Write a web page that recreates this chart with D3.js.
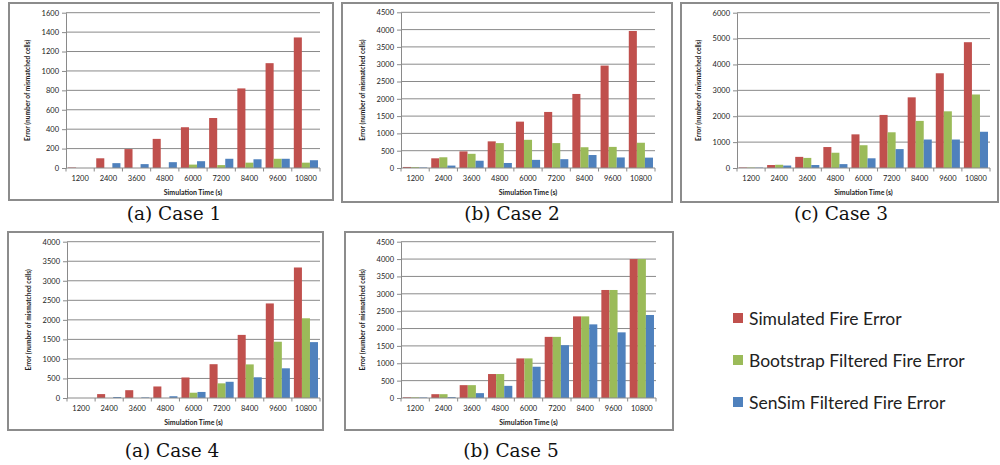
<!DOCTYPE html>
<html>
<head>
<meta charset="utf-8">
<script src="https://cdn.jsdelivr.net/npm/d3@7"></script>
<style>
  html, body { margin: 0; padding: 0; background: #fff; }
  svg { display: block; }
  .tick text { font-family: Lato, "Liberation Sans", sans-serif; }
</style>
</head>
<body>
<svg id="chart" width="1000" height="465"></svg>
<script>
// Simulation time steps (s)
const categories = ["1200", "2400", "3600", "4800", "6000", "7200", "8400", "9600", "10800"];
const seriesNames = ["Simulated Fire Error", "Bootstrap Filtered Fire Error", "SenSim Filtered Fire Error"];

// Case 1
const case1Simulated = [5, 100, 195, 300, 420, 515, 820, 1080, 1345];
const case1Bootstrap = [0, 0, 0, 0, 35, 30, 55, 95, 55];
const case1SenSim = [0, 50, 40, 60, 70, 95, 90, 95, 80];
// Case 2
const case2Simulated = [30, 280, 480, 770, 1340, 1620, 2140, 2960, 3960];
const case2Bootstrap = [25, 310, 410, 720, 815, 720, 600, 610, 730];
const case2SenSim = [15, 70, 210, 145, 235, 255, 375, 305, 300];
// Case 3
const case3Simulated = [20, 115, 430, 810, 1300, 2050, 2730, 3660, 4860];
const case3Bootstrap = [20, 125, 390, 590, 880, 1380, 1820, 2190, 2840];
const case3SenSim = [15, 95, 115, 150, 375, 730, 1100, 1100, 1400];
// Case 4
const case4Simulated = [0, 100, 200, 295, 525, 865, 1615, 2420, 3340];
const case4Bootstrap = [0, 0, 0, 0, 135, 375, 860, 1440, 2040];
const case4SenSim = [0, 25, 15, 45, 155, 415, 530, 760, 1430];
// Case 5
const case5Simulated = [20, 110, 370, 690, 1140, 1760, 2350, 3110, 4000];
const case5Bootstrap = [20, 110, 370, 690, 1140, 1760, 2350, 3110, 4000];
const case5SenSim = [15, 25, 140, 350, 900, 1520, 2120, 1890, 2390];

// Y-axis tick values per case
const case1Ticks = [0, 200, 400, 600, 800, 1000, 1200, 1400, 1600];
const case2Ticks = [0, 500, 1000, 1500, 2000, 2500, 3000, 3500, 4000, 4500];
const case3Ticks = [0, 1000, 2000, 3000, 4000, 5000, 6000];
const case4Ticks = [0, 500, 1000, 1500, 2000, 2500, 3000, 3500, 4000];
const case5Ticks = [0, 500, 1000, 1500, 2000, 2500, 3000, 3500, 4000, 4500];

const captions = ["(a) Case 1", "(b) Case 2", "(c) Case 3", "(a) Case 4", "(b) Case 5"];

const colors = ["#C0504D", "#9BBB59", "#4F81BD"];
const gridColor = "#8a8a8a";
const sansFont = "Lato, 'Liberation Sans', sans-serif";
const serifFont = "'DejaVu Serif', 'Liberation Serif', serif";

// Panel layout: frame box, plot box, caption position
const panels = [
  { series: [case1Simulated, case1Bootstrap, case1SenSim], ticks: case1Ticks,
    frame: [9, 3, 333, 200], plot: [66, 12.7, 320, 168], cap: [174, 213] },
  { series: [case2Simulated, case2Bootstrap, case2SenSim], ticks: case2Ticks,
    frame: [342, 3, 672, 202], plot: [401, 12.3, 655, 168], cap: [512, 213] },
  { series: [case3Simulated, case3Bootstrap, case3SenSim], ticks: case3Ticks,
    frame: [681, 3, 998, 202], plot: [737, 12.7, 990, 168], cap: [841, 213] },
  { series: [case4Simulated, case4Bootstrap, case4SenSim], ticks: case4Ticks,
    frame: [8, 232, 323, 430], plot: [67, 241.7, 320, 398], cap: [172, 450] },
  { series: [case5Simulated, case5Bootstrap, case5SenSim], ticks: case5Ticks,
    frame: [345, 232, 673, 430], plot: [401, 241.7, 656, 398], cap: [511, 450] }
];

const svg = d3.select("#chart");

panels.forEach((p, i) => {
  const [fx0, fy0, fx1, fy1] = p.frame;
  const [px0, py0, px1, py1] = p.plot;
  const g = svg.append("g");

  // chart frame
  g.append("rect")
    .attr("x", fx0).attr("y", fy0)
    .attr("width", fx1 - fx0).attr("height", fy1 - fy0)
    .attr("fill", "#fff").attr("stroke", "#8c8c8c").attr("stroke-width", 2);

  const yMax = p.ticks[p.ticks.length - 1];
  const y = d3.scaleLinear().domain([0, yMax]).range([py1, py0]);
  const x = d3.scaleBand().domain(categories).range([px0, px1]).paddingInner(0).paddingOuter(0);
  // 150% gap width between clusters
  const xs = d3.scaleBand().domain(d3.range(3))
    .range([0, x.bandwidth()]).paddingInner(0).paddingOuter(0.75 / 3);

  // horizontal gridlines
  g.append("g").selectAll("line").data(p.ticks.slice(1)).join("line")
    .attr("x1", px0).attr("x2", px1)
    .attr("y1", d => y(d)).attr("y2", d => y(d))
    .attr("stroke", gridColor).attr("stroke-width", 1);

  // bars
  p.series.forEach((vals, s) => {
    g.append("g").selectAll("rect").data(vals).join("rect")
      .attr("x", (d, k) => x(categories[k]) + xs(s))
      .attr("width", xs.bandwidth())
      .attr("y", d => y(d))
      .attr("height", d => py1 - y(d))
      .attr("fill", colors[s]);
  });

  // y axis
  const yAxis = d3.axisLeft(y).tickValues(p.ticks).tickFormat(d3.format("d"))
    .tickSize(4).tickPadding(3).tickSizeOuter(0);
  const ya = g.append("g").attr("transform", `translate(${px0},0)`).call(yAxis);
  ya.select(".domain").attr("stroke", gridColor);
  ya.selectAll(".tick line").attr("stroke", gridColor);
  ya.selectAll(".tick text").attr("font-size", 7.5).attr("fill", "#222");

  // x axis with ticks between categories
  const xa = g.append("g").attr("transform", `translate(0,${py1})`);
  xa.append("line").attr("x1", px0).attr("x2", px1).attr("y1", 0).attr("y2", 0)
    .attr("stroke", gridColor);
  xa.selectAll("line.sep").data(d3.range(categories.length + 1)).join("line")
    .attr("class", "sep")
    .attr("x1", k => px0 + k * x.step()).attr("x2", k => px0 + k * x.step())
    .attr("y1", 0).attr("y2", 3.5).attr("stroke", gridColor);
  xa.selectAll("text").data(categories).join("text")
    .attr("x", d => x(d) + x.bandwidth() / 2)
    .attr("y", 12.5)
    .attr("text-anchor", "middle")
    .attr("font-family", sansFont).attr("font-size", 7.5).attr("fill", "#222")
    .text(d => d);

  // axis titles
  g.append("text")
    .attr("x", (px0 + px1) / 2).attr("y", py1 + 27)
    .attr("text-anchor", "middle")
    .attr("font-family", sansFont).attr("font-weight", "bold")
    .attr("font-size", 7).attr("fill", "#222")
    .text("Simulation Time (s)");
  g.append("text")
    .attr("transform", `translate(${px0 - 36},${(py0 + py1) / 2}) rotate(-90)`)
    .attr("text-anchor", "middle")
    .attr("font-family", sansFont).attr("font-weight", "bold")
    .attr("font-size", 6.6).attr("fill", "#222")
    .text("Error (number of mismatched cells)");

  // caption
  svg.append("text")
    .attr("x", p.cap[0]).attr("y", p.cap[1])
    .attr("text-anchor", "middle").attr("dominant-baseline", "central")
    .attr("font-family", serifFont).attr("font-size", 18.5).attr("fill", "#111")
    .text(captions[i]);
});

// legend
const legend = svg.append("g").attr("transform", "translate(733,318)");
seriesNames.forEach((name, s) => {
  const row = legend.append("g").attr("transform", `translate(0,${s * 42})`);
  row.append("rect").attr("x", 0).attr("y", -5).attr("width", 10).attr("height", 10)
    .attr("fill", colors[s]);
  row.append("text").attr("x", 16).attr("y", 0)
    .attr("dominant-baseline", "central")
    .attr("font-family", sansFont).attr("font-size", 17.5).attr("fill", "#222")
    .text(name);
});
</script>
</body>
</html>
